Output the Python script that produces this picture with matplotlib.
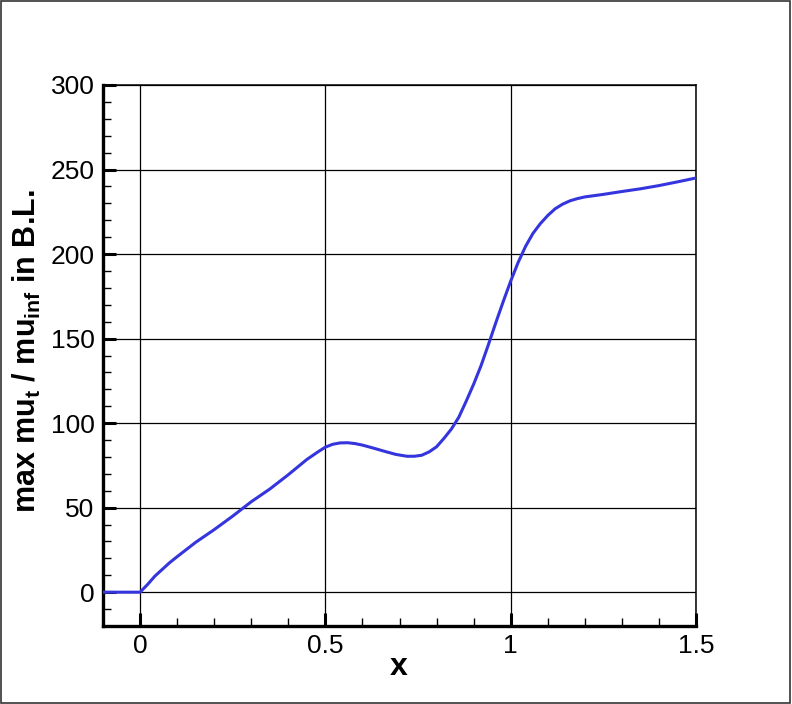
import numpy as np
import matplotlib
matplotlib.use("Agg")
from matplotlib import pyplot as plt
from matplotlib.patches import Rectangle
from matplotlib.ticker import MultipleLocator

plt.rcParams['font.family'] = ['Liberation Sans', 'DejaVu Sans']
plt.rcParams['mathtext.fontset'] = 'custom'
plt.rcParams['mathtext.rm'] = 'Liberation Sans:bold'
plt.rcParams['mathtext.default'] = 'rm'

# curve
x_vals = [-0.1, 0.0, 0.02, 0.04, 0.06, 0.08, 0.10, 0.15, 0.20, 0.25, 0.30,
          0.35, 0.40, 0.45, 0.48, 0.50, 0.52, 0.54, 0.56, 0.58, 0.60, 0.63,
          0.66, 0.69, 0.72, 0.74, 0.76, 0.78, 0.80, 0.82, 0.84, 0.86, 0.88,
          0.90, 0.92, 0.94, 0.96, 0.98, 1.00, 1.02, 1.04, 1.06, 1.08, 1.10,
          1.12, 1.14, 1.16, 1.18, 1.20, 1.25, 1.30, 1.35, 1.40, 1.45, 1.50]
mu_vals = [0.0, 0.0, 4.5, 9.5, 13.5, 17.5, 21.0, 29.5, 37.0, 45.0, 53.5,
           61.0, 69.5, 78.5, 83.0, 85.8, 87.5, 88.3, 88.4, 87.9, 87.0, 85.2,
           83.3, 81.5, 80.4, 80.4, 81.0, 83.0, 86.0, 91.0, 96.5, 103.5, 113.0,
           123.0, 134.0, 146.5, 159.5, 172.0, 184.0, 195.0, 204.5, 212.2, 218.0, 222.8,
           226.8, 229.5, 231.5, 232.8, 233.8, 235.3, 237.0, 238.6, 240.5, 242.7, 245.0]

x_ticks = [0, 0.5, 1, 1.5]
x_ticklabels = ['0', '0.5', '1', '1.5']
y_ticks = [0, 50, 100, 150, 200, 250, 300]

fig = plt.figure(figsize=(7.92, 7.04), dpi=100)
ax = fig.add_axes([103/792, 1 - 626/704, 593/792, 541/704])

ax.plot(x_vals, mu_vals, color='#3535dd', lw=2.2, zorder=3,
        solid_joinstyle='round')

ax.set_xlim(-0.1, 1.5)
ax.set_ylim(-20, 300)
ax.set_xticks(x_ticks)
ax.set_xticklabels(x_ticklabels)
ax.set_yticks(y_ticks)
ax.xaxis.set_minor_locator(MultipleLocator(0.1))
ax.yaxis.set_minor_locator(MultipleLocator(10))
ax.grid(True, which='major', color='black', lw=0.9)

ax.tick_params(which='both', direction='in', top=False, right=False,
               labelsize=19, colors='black')
ax.tick_params(which='major', length=9.5, width=2.2, pad=6)
ax.tick_params(which='minor', length=5.5, width=1.0)

for side in ['left', 'bottom']:
    ax.spines[side].set_linewidth(2.4)
for side in ['top', 'right']:
    ax.spines[side].set_linewidth(1.1)

fig.text(27/792, 1 - 351/704, r'max mu$_{t}$ / mu$_{inf}$ in B.L.',
         rotation=90, ha='center', va='center', fontsize=22, fontweight='bold')
fig.text(399/792, 1 - 667/704, 'x', ha='center', va='center',
         fontsize=23, fontweight='bold')

fig.add_artist(Rectangle((0.001, 0.001), 0.997, 0.997, transform=fig.transFigure,
                         fill=False, edgecolor='#333333', lw=1.2))

fig.savefig('out.png', dpi=100)
